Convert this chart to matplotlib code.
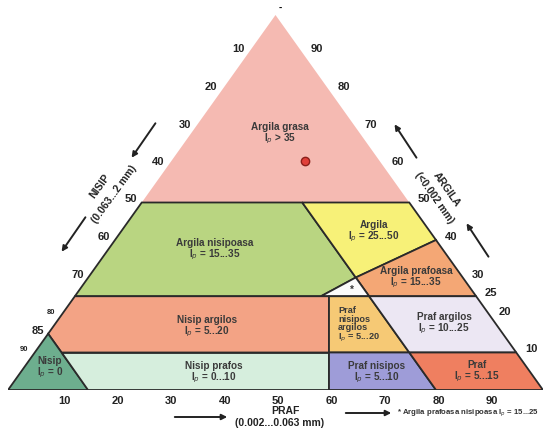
import matplotlib
matplotlib.use("Agg")
import matplotlib.pyplot as plt
from matplotlib.patches import Polygon

plt.rcParams['font.family'] = ['Liberation Sans', 'DejaVu Sans']

# ---- data (ternary compositions as (silt %, clay %); sand = 100 - silt - clay)
region_names = ["Argila grasa", "Argila nisipoasa", "Argila", "Argila prafoasa", "*",
                "Nisip argilos", "Praf nisipos argilos", "Praf argilos",
                "Nisip", "Nisip prafos", "Praf nisipos", "Praf"]
region_vertices = [
    [(0, 100), (0, 50), (50, 50)],
    [(0, 50), (30, 50), (50, 30), (46, 25), (0, 25)],
    [(30, 50), (50, 50), (60, 40), (50, 30)],
    [(50, 30), (60, 40), (75, 25), (55, 25)],
    [(46, 25), (50, 30), (55, 25)],
    [(0, 25), (47.5, 25), (55, 10), (5, 10), (0, 15)],
    [(47.5, 25), (55, 25), (70, 10), (55, 10)],
    [(55, 25), (75, 25), (90, 10), (70, 10)],
    [(0, 0), (0, 15), (15, 0)],
    [(5, 10), (55, 10), (60, 0), (15, 0)],
    [(55, 10), (70, 10), (80, 0), (60, 0)],
    [(70, 10), (90, 10), (100, 0), (80, 0)],
]
region_colors = ["#f5bab2", "#b9d581", "#f7f178", "#f4a775", "#fbfbfb",
                 "#f3a385", "#f6c975", "#ece7f3",
                 "#6dae8e", "#d6eedd", "#9e9cd8", "#ef7f60"]
region_labels = ["Argila grasa\nI$_p$ > 35", "Argila nisipoasa\nI$_p$ = 15...35",
                 "Argila\nI$_p$ = 25...50", "Argila prafoasa\nI$_p$ = 15...35", "*",
                 "Nisip argilos\nI$_p$ = 5...20", "Praf\nnisipos\nargilos\nI$_p$ = 5...20",
                 "Praf argilos\nI$_p$ = 10...25", "Nisip\nI$_p$ = 0",
                 "Nisip prafos\nI$_p$ = 0...10", "Praf nisipos\nI$_p$ = 5...10",
                 "Praf\nI$_p$ = 5...15"]

bottom_ticks = [10, 20, 30, 40, 50, 60, 70, 80, 90]          # PRAF (silt)
left_ticks = [10, 20, 30, 40, 50, 60, 70, 80, 85, 90]        # NISIP (sand)
right_ticks = [10, 20, 25, 30, 40, 50, 60, 70, 80, 90]       # ARGILA (clay)

sample_point = (25, 61)   # (silt, clay)


def tern(silt, clay):
    return silt + clay / 2.0, clay


# ---- layout: triangle base px 8..543, base y=390, apex y=15
W, H = 560, 433
fig = plt.figure(figsize=(W / 100, H / 100), dpi=100)
ax = fig.add_axes([8 / W, (H - 390) / H, 535 / W, 375 / H])
ax.set_xlim(0, 100)
ax.set_ylim(0, 100)
ax.axis('off')


def px(x, y):
    return (x - 8) / 5.35, (390 - y) / 3.75


label_px = [(280, 134), (215, 250), (374, 232), (416, 278), (352, 290),
            (207, 327), (338, 325), (444, 324), (50, 368),
            (214, 373), (377, 373), (477, 372)]
label_ha = ["center"] * 12
label_ha[6] = "left"

for name, verts, col, lab, lp, ha in zip(region_names, region_vertices, region_colors,
                                         region_labels, label_px, label_ha):
    pts = [tern(s, c) for s, c in verts]
    ec = "none" if name == "Argila grasa" else "#2a2a2a"
    ax.add_patch(Polygon(pts, closed=True, facecolor=col, edgecolor=ec, lw=1.3,
                         joinstyle='miter', zorder=2 if ec != "none" else 1))
    x, y = px(*lp)
    fs = 6.6 if name == "Praf nisipos argilos" else 7.2
    ax.text(x, y, lab, ha=ha, va="center", fontsize=fs, fontweight="bold",
            color="#3a3a3a", linespacing=0.95, zorder=5)

# sample point
sx, sy = tern(*sample_point)
ax.plot([sx], [sy], marker="o", ms=6, mfc="#e0403a", mec="#8a1f1a", mew=1.0, zorder=6)

# tick labels
tick_kw = dict(fontsize=8, fontweight="bold", color="#222222", ha="center", va="center")
for t in bottom_ticks:
    x, _ = tern(t, 0)
    ax.text(x + 0.5, px(0, 401)[1], str(t), **tick_kw)
for t in left_ticks:
    x, y = tern(0, 100 - t)
    fs = 8 if t in (10, 20, 30, 40, 50, 60, 70, 85) else 5.5
    ax.text(x - 2.0, y + 0.8, str(t), **{**tick_kw, "fontsize": fs})
for t in right_ticks:
    x, y = 100 - t / 2.0, t
    ax.text(x + 2.8, y + 0.8, str(t), **tick_kw)

ax.text(*px(280, 8), "-", ha="center", va="center", fontsize=7, fontweight="bold")

# axis titles
ax.text(*px(285, 411), "PRAF", ha="center", va="center", fontsize=7.5, fontweight="bold", color="#222")
ax.text(*px(280, 423), "(0.002...0.063 mm)", ha="center", va="center", fontsize=7.5,
        fontweight="bold", color="#222")
ax.text(*px(100, 186), "NISIP", ha="center", va="center", rotation=54, fontsize=7.5,
        fontweight="bold", color="#222")
ax.text(*px(114, 194), "(0.063...2 mm)", ha="center", va="center", rotation=54, fontsize=7.5,
        fontweight="bold", color="#222")
ax.text(*px(447, 190), "ARGILA", ha="center", va="center", rotation=-55, fontsize=7.5,
        fontweight="bold", color="#222")
ax.text(*px(434, 198), "(<0.002 mm)", ha="center", va="center", rotation=-55, fontsize=7.5,
        fontweight="bold", color="#222")
ax.text(*px(397, 413), "* Argila prafoasa nisipoasa I$_p$ = 15...25", ha="left", va="center",
        fontsize=5.6, fontweight="bold", color="#333")

arrows = [((172, 417), (230, 417)), ((343, 413), (394, 413)),
          ((157, 121), (130, 160)), ((87, 215), (60, 254)),
          ((418, 160), (393, 122)), ((490, 259), (465, 221))]
for (x0, y0), (x1, y1) in arrows:
    ax.annotate("", xy=px(x1, y1), xytext=px(x0, y0),
                arrowprops=dict(arrowstyle="-|>", color="#222", lw=1.4,
                                mutation_scale=8), annotation_clip=False)

fig.savefig("out.png", dpi=100)
